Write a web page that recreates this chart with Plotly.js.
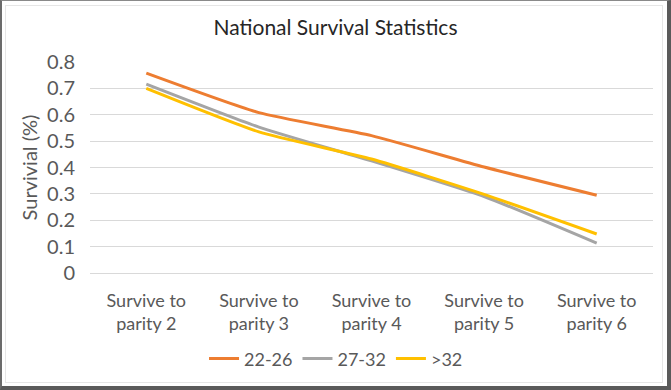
<!DOCTYPE html>
<html>
<head>
<meta charset="utf-8">
<script src="https://cdn.plot.ly/plotly-3.0.1.min.js"></script>
<style>
html,body{margin:0;padding:0;background:#fff;}
#wrap{position:relative;width:671px;height:390px;overflow:hidden;}
#chart{position:absolute;left:0;top:0;width:671px;height:390px;}
#frame{position:absolute;left:0;top:0;width:671px;height:390px;box-sizing:border-box;
  border-left:2px solid #6b6b6b;border-top:1px solid #8a8a8a;border-right:4px solid #5a5a5a;border-bottom:4px solid #5a5a5a;pointer-events:none;}
#inner{position:absolute;left:5px;top:5px;width:658px;height:378px;box-sizing:border-box;border:1px solid #e6e6e6;pointer-events:none;}
</style>
</head>
<body>
<div id="wrap">
<div id="chart"></div>
<div id="frame"></div>
<div id="inner"></div>
</div>
<script>
const categories = ["Survive to<br>parity 2","Survive to<br>parity 3","Survive to<br>parity 4","Survive to<br>parity 5","Survive to<br>parity 6"];
const seriesNames = ["22-26","27-32",">32"];
const s2226 = [0.758, 0.608, 0.521, 0.402, 0.295];
const s2732 = [0.716, 0.553, 0.425, 0.29, 0.113];
const sOver32 = [0.700, 0.535, 0.432, 0.298, 0.148];
const colors = ["#ED7D31","#A5A5A5","#FFC000"];
const yTicks = [0,0.1,0.2,0.3,0.4,0.5,0.6,0.7,0.8];
const yTickText = ["0","0.1","0.2","0.3","0.4","0.5","0.6","0.7","0.8"];

const allSeries = [s2226, s2732, sOver32];
const traces = allSeries.map((vals, i) => ({
  type: 'scatter', mode: 'lines', x: categories, y: vals, name: seriesNames[i],
  line: {color: colors[i], width: 3, shape: 'spline', smoothing: 0.5}
}));

const layout = {
  width: 671, height: 390,
  margin: {l: 90, r: 18, t: 62, b: 115},
  paper_bgcolor: '#fff', plot_bgcolor: '#fff',
  font: {family: 'Lato, "Open Sans", sans-serif', color: '#595959', size: 18},
  title: {text: 'National Survival Statistics', x: 0.5, xanchor: 'center', y: 0.93, yanchor: 'middle',
    font: {family: 'Lato, sans-serif', size: 21, color: '#262626'}},
  xaxis: {type: 'category', range: [-0.5, 4.5], showgrid: false, showline: true, linecolor: '#D9D9D9', linewidth: 1,
    ticks: '', ticklabelstandoff: 11, tickfont: {size: 18, color: '#595959'}, fixedrange: true, automargin: false},
  yaxis: {range: [0, 0.8], tickvals: yTicks, ticktext: yTickText, showgrid: true, gridcolor: '#D9D9D9', gridwidth: 1,
    zeroline: false, showline: false, ticks: '', ticklen: 0, ticklabelstandoff: 14, tickfont: {size: 20, color: '#595959'},
    automargin: false,
    title: {text: 'Survivial (%)', standoff: 4, font: {size: 20, color: '#595959'}}},
  legend: {orientation: 'h', x: 0.437, xanchor: 'center', y: -0.407, yanchor: 'middle',
    font: {size: 18, color: '#595959'}, itemwidth: 30, tracegroupgap: 0},
  showlegend: true
};

Plotly.newPlot('chart', traces, layout, {displayModeBar: false, staticPlot: true});
</script>
</body>
</html>
